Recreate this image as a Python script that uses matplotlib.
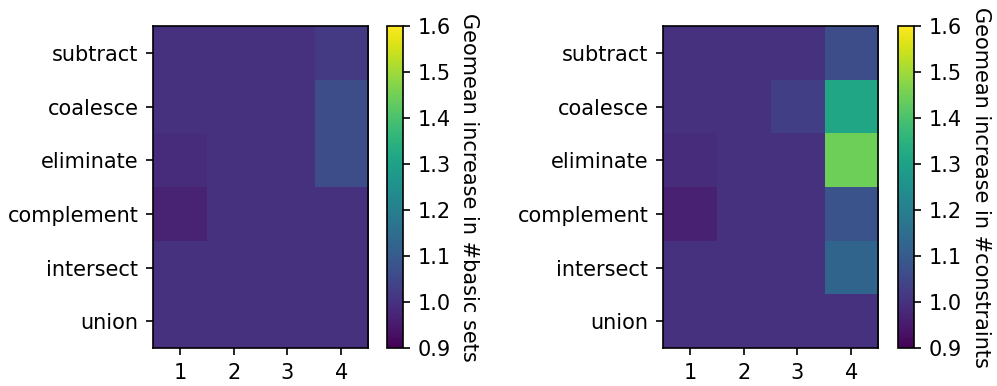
import numpy as np
import matplotlib
matplotlib.use("Agg")
import matplotlib.pyplot as plt

ops = ["subtract", "coalesce", "eliminate", "complement", "intersect", "union"]
levels = [1, 2, 3, 4]

# rows follow ops (top to bottom), columns follow levels
basic_sets = np.array([
    [1.00, 1.00, 1.00, 1.02],
    [1.00, 1.00, 1.00, 1.065],
    [0.99, 1.00, 1.00, 1.065],
    [0.97, 1.00, 1.00, 1.00],
    [1.00, 1.00, 1.00, 1.00],
    [1.00, 1.00, 1.00, 1.00],
])
constraints = np.array([
    [1.00, 1.00, 1.00, 1.065],
    [1.00, 1.00, 1.03, 1.315],
    [0.99, 1.00, 1.00, 1.445],
    [0.965, 1.00, 1.00, 1.08],
    [1.00, 1.00, 1.00, 1.125],
    [1.00, 1.00, 1.00, 1.00],
])

DPI = 150
fig = plt.figure(figsize=(997 / DPI, 386 / DPI), dpi=DPI)
panels = [
    (basic_sets, "Geomean increase in #basic sets", 0.1535, 0.388),
    (constraints, "Geomean increase in #constraints", 0.665, 0.9007),
]
for data, label, ax_x, cb_x in panels:
    ax = fig.add_axes([ax_x, 0.0984, 0.2157, 0.834])
    im = ax.imshow(data, cmap="viridis", vmin=0.9, vmax=1.6, aspect="auto")
    ax.set_xticks(range(len(levels)))
    ax.set_xticklabels(levels)
    ax.set_yticks(range(len(ops)))
    ax.set_yticklabels(ops)
    cax = fig.add_axes([cb_x, 0.0984, 0.0165, 0.834])
    cb = fig.colorbar(im, cax=cax)
    cb.ax.set_ylabel(label, rotation=-90, va="bottom")

fig.savefig("out.png", dpi=DPI)
